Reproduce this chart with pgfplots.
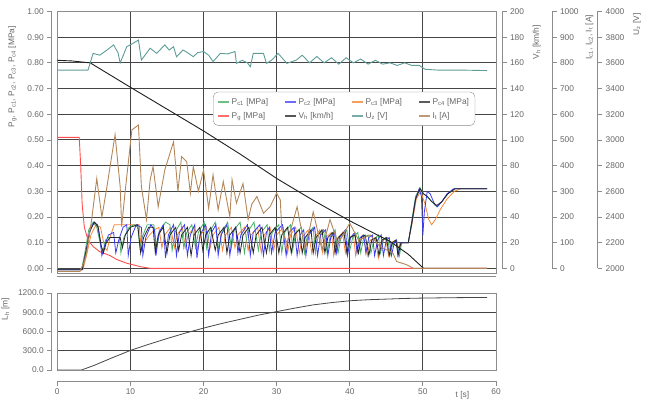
\documentclass[border=0pt]{standalone}
\usepackage{pgfplots}
\pgfplotsset{compat=1.18}
\usepackage{fontspec}
\setmainfont{Liberation Sans}
\definecolor{txt}{HTML}{666666}
\definecolor{axg}{HTML}{8C8C8C}
\definecolor{gridc}{HTML}{454545}
\definecolor{cg}{HTML}{49B06A}
\definecolor{cb}{HTML}{3B3BF5}
\definecolor{co}{HTML}{F5873A}
\definecolor{ck}{HTML}{262626}
\definecolor{cr}{HTML}{FF4D4D}
\definecolor{cv}{HTML}{1E1E1E}
\definecolor{cu}{HTML}{5E9C98}
\definecolor{ci}{HTML}{B3875A}
\newcommand\tk{\fontsize{8.4}{9.5}\selectfont}
\pgfplotsset{
  base/.style={scale only axis, anchor=south west,
    /pgf/number format/assume math mode=true,
    tick label style={font=\tk, text=txt},
    label style={font=\tk, text=txt},
    axis line style={axg, line width=0.8bp},
    tick style={axg, line width=0.8bp},
    major tick length=4.5bp},
  dat/.style={base, xmin=0, xmax=60, width=438.7bp, axis lines=none, clip=false},
  tax/.style={base, width=1bp, xmin=0, xmax=1, axis x line=none, tick align=outside},
}
\begin{document}
\begin{tikzpicture}
\path[use as bounding box] (0,0) rectangle (645bp,400bp);
% ===== top main axis (pressures) =====
\begin{axis}[base, at={(57.3bp,127bp)}, width=438.7bp, height=261.5bp,
  xmin=0, xmax=60, ymin=-0.018, ymax=1,
  xtick={0,10,20,30,40,50,60}, ytick={0,0.1,0.2,0.3,0.4,0.5,0.6,0.7,0.8,0.9,1},
  xticklabels={}, yticklabels={}, major tick length=0pt,
  grid=major, major grid style={gridc, line width=0.9bp}]
\addplot[cr, line width=0.9bp] coordinates {(0,0.51)(3.0,0.51)(3.2,0.40)(3.4,0.25)(3.7,0.16)(4.2,0.11)(4.9,0.085)(5.8,0.065)(7.2,0.05)(8.1,0.035)(9.5,0.02)(11.3,0.007)(12.7,0)(58.8,0)};
\addplot[co, line width=0.8bp] coordinates {(0,-0.005)(3.5,-0.005)(4.0,0.05)(4.6,0.13)(5.3,0.17)(5.9,0.16)(6.5,0.08)(6.8,0.07)(7.3,0.13)(7.8,0.17)(11.2,0.17)(11.5,0.07)(11.9,0.10)(12.6,0.13)(13.3,0.15)(13.9,0.16)(14.3,0.08)(14.7,0.13)(15.5,0.16)(16.0,0.08)(16.4,0.13)(17.1,0.16)(17.5,0.08)(17.9,0.13)(18.7,0.16)(19.2,0.07)(19.6,0.13)(20.4,0.16)(20.9,0.08)(21.3,0.13)(22.1,0.16)(22.6,0.07)(23.0,0.13)(23.8,0.16)(24.3,0.08)(24.7,0.13)(25.6,0.16)(26.1,0.07)(26.5,0.13)(27.4,0.16)(27.9,0.06)(28.3,0.13)(29.1,0.16)(29.6,0.07)(30.0,0.13)(30.9,0.16)(31.5,0.06)(31.9,0.13)(32.6,0.16)(33.1,0.06)(33.5,0.12)(34.3,0.15)(34.8,0.06)(35.2,0.12)(35.9,0.15)(36.3,0.06)(36.7,0.12)(37.5,0.14)(37.8,0.05)(38.2,0.11)(39.0,0.14)(39.4,0.06)(39.8,0.11)(40.5,0.13)(40.8,0.05)(41.2,0.11)(41.8,0.13)(42.4,0.05)(42.8,0.11)(43.5,0.12)(43.9,0.04)(44.3,0.10)(44.9,0.12)(45.3,0.05)(45.7,0.10)(46.3,0.11)(46.7,0.08)(47.2,0.10)(48.0,0.10)(48.5,0.17)(49.1,0.27)(49.7,0.30)(50.3,0.25)(50.8,0.19)(51.2,0.17)(51.7,0.19)(52.4,0.23)(53.3,0.27)(54.3,0.30)(55.2,0.31)(58.8,0.31)};
\addplot[cg, line width=0.8bp] coordinates {(0,-0.005)(3.3,-0.005)(3.7,0.05)(4.3,0.15)(4.9,0.18)(5.4,0.16)(6.0,0.08)(6.3,0.07)(6.6,0.11)(7.0,0.12)(8.5,0.12)(8.7,0.06)(9.1,0.12)(9.8,0.16)(10.5,0.17)(11.0,0.16)(11.3,0.08)(11.6,0.12)(12.3,0.17)(13.2,0.17)(13.6,0.08)(14.0,0.14)(14.8,0.18)(15.4,0.17)(15.7,0.07)(16.1,0.14)(16.9,0.18)(17.3,0.08)(17.7,0.14)(18.4,0.17)(18.9,0.08)(19.3,0.14)(20.1,0.18)(20.4,0.08)(20.8,0.14)(21.6,0.18)(22.1,0.07)(22.5,0.14)(23.3,0.18)(23.8,0.08)(24.2,0.15)(25.0,0.18)(25.6,0.06)(26.0,0.14)(26.9,0.18)(27.5,0.07)(27.9,0.14)(28.7,0.17)(29.0,0.07)(29.4,0.14)(30.3,0.17)(30.7,0.06)(31.1,0.14)(31.9,0.17)(32.2,0.07)(32.6,0.14)(33.4,0.16)(33.8,0.06)(34.2,0.13)(35.0,0.16)(35.3,0.06)(35.7,0.13)(36.4,0.15)(36.9,0.06)(37.3,0.12)(38.0,0.15)(38.4,0.06)(38.8,0.12)(39.6,0.15)(40.0,0.07)(40.4,0.12)(41.1,0.14)(41.5,0.06)(41.9,0.12)(42.5,0.13)(42.9,0.06)(43.3,0.11)(43.9,0.13)(44.2,0.06)(44.6,0.11)(45.2,0.12)(45.5,0.05)(45.9,0.10)(46.4,0.11)(46.8,0.05)(47.1,0.10)(48.0,0.10)(48.5,0.19)(49.0,0.28)(49.6,0.315)(50.1,0.29)(50.6,0.28)(51.2,0.26)(51.9,0.24)(52.6,0.26)(53.4,0.29)(54.4,0.31)(58.8,0.31)};
\addplot[cb, line width=0.8bp] coordinates {(0,-0.005)(3.4,-0.005)(3.8,0.05)(4.4,0.14)(5.0,0.18)(5.5,0.17)(5.9,0.10)(6.1,0.05)(6.5,0.09)(7.0,0.13)(7.7,0.14)(8.0,0.06)(8.4,0.11)(9.0,0.16)(9.5,0.17)(9.7,0.05)(10.1,0.12)(10.8,0.17)(11.5,0.16)(11.7,0.05)(12.1,0.12)(12.8,0.17)(13.3,0.15)(13.5,0.05)(13.9,0.14)(14.5,0.17)(14.8,0.04)(15.2,0.13)(15.9,0.17)(16.3,0.05)(16.7,0.14)(17.4,0.17)(17.8,0.05)(18.2,0.13)(18.8,0.17)(19.1,0.04)(19.5,0.13)(20.3,0.17)(20.7,0.05)(21.1,0.14)(21.7,0.17)(22.0,0.05)(22.4,0.13)(23.2,0.17)(23.6,0.05)(24.0,0.14)(24.4,0.16)(24.7,0.06)(25.1,0.13)(26.0,0.17)(26.4,0.05)(26.8,0.14)(27.7,0.17)(28.2,0.05)(28.6,0.14)(29.0,0.16)(29.3,0.06)(29.8,0.14)(30.8,0.17)(31.3,0.05)(31.7,0.14)(32.4,0.16)(32.8,0.05)(33.2,0.13)(33.7,0.15)(34.0,0.05)(34.4,0.13)(35.2,0.16)(35.6,0.05)(36.0,0.13)(36.7,0.15)(37.0,0.05)(37.4,0.12)(37.9,0.14)(38.2,0.06)(38.6,0.12)(39.4,0.15)(39.7,0.05)(40.1,0.12)(40.7,0.14)(41.0,0.06)(41.4,0.12)(41.9,0.13)(42.2,0.06)(42.6,0.12)(43.1,0.13)(43.4,0.05)(43.8,0.11)(44.3,0.13)(44.6,0.05)(45.0,0.11)(45.4,0.12)(45.7,0.05)(46.1,0.10)(46.4,0.11)(46.6,0.05)(46.9,0.10)(48.0,0.10)(48.5,0.18)(49.0,0.27)(49.5,0.31)(49.8,0.28)(50.0,0.13)(50.2,0.22)(50.6,0.30)(51.0,0.29)(51.6,0.25)(52.0,0.24)(52.6,0.26)(53.3,0.29)(54.2,0.31)(58.8,0.31)};
\addplot[ck, line width=0.8bp] coordinates {(0,-0.005)(3.4,-0.005)(3.9,0.06)(4.5,0.15)(5.1,0.18)(5.6,0.16)(6.0,0.09)(6.3,0.06)(6.7,0.10)(7.2,0.12)(8.6,0.12)(8.9,0.08)(9.3,0.13)(10.0,0.16)(11.0,0.17)(11.4,0.06)(11.8,0.12)(12.5,0.16)(13.1,0.16)(13.4,0.06)(13.8,0.13)(14.5,0.16)(15.0,0.06)(15.4,0.13)(16.2,0.16)(16.6,0.07)(17.0,0.13)(17.8,0.16)(18.3,0.05)(18.7,0.13)(19.5,0.16)(19.9,0.07)(20.3,0.13)(21.0,0.16)(21.6,0.07)(22.0,0.13)(22.8,0.16)(23.2,0.06)(23.6,0.13)(24.4,0.16)(25.0,0.06)(25.4,0.13)(26.2,0.16)(26.8,0.06)(27.2,0.13)(28.0,0.16)(28.6,0.06)(29.0,0.13)(29.8,0.16)(30.3,0.06)(30.7,0.13)(31.5,0.16)(32.0,0.06)(32.4,0.13)(33.1,0.15)(33.5,0.06)(33.9,0.12)(34.7,0.15)(35.0,0.06)(35.4,0.12)(36.2,0.15)(36.6,0.06)(37.0,0.12)(37.7,0.14)(38.0,0.06)(38.4,0.12)(39.2,0.14)(39.6,0.06)(40.0,0.12)(40.7,0.13)(41.2,0.06)(41.6,0.12)(42.1,0.13)(42.6,0.05)(43.0,0.11)(43.6,0.12)(44.0,0.05)(44.4,0.11)(45.0,0.12)(45.4,0.05)(45.8,0.10)(46.3,0.11)(46.6,0.05)(47.0,0.10)(48.0,0.10)(48.5,0.18)(49.0,0.27)(49.6,0.31)(50.1,0.29)(50.6,0.28)(51.2,0.26)(51.9,0.245)(52.6,0.26)(53.4,0.29)(54.4,0.31)(58.8,0.31)};
\end{axis}
% ===== V_h data =====
\begin{axis}[dat, at={(57.3bp,127bp)}, height=261.5bp, ymin=-3.6, ymax=200]
\addplot[cv, line width=0.9bp] coordinates {(0,162)(2,161.5)(4.5,160)(10,141)(15,124)(20,107)(25,89)(30,70)(35,53)(40,37)(45.5,21)(48,11)(50.1,0)(58.8,0)};
\end{axis}
% ===== U_z data =====
\begin{axis}[dat, at={(57.3bp,127bp)}, height=261.5bp, ymin=1964, ymax=4000]
\addplot[cu, line width=0.9bp] coordinates {(0,3544)(4.2,3544)(4.9,3674)(5.8,3660)(6.8,3700)(7.7,3740)(8.3,3680)(8.6,3600)(9.5,3726)(10.3,3750)(11.1,3778)(11.5,3622)(12.0,3660)(12.7,3714)(13.6,3674)(14.7,3740)(15.3,3700)(15.9,3726)(16.3,3648)(17.2,3700)(17.8,3680)(18.6,3648)(19.2,3680)(20.0,3688)(20.7,3660)(21.3,3610)(22.3,3674)(23.3,3670)(24.3,3688)(24.5,3596)(25.3,3620)(26.0,3600)(26.4,3570)(26.8,3674)(28.2,3674)(28.6,3596)(29.3,3620)(30.2,3674)(31.4,3596)(32.7,3622)(33.5,3660)(34.5,3600)(35.5,3650)(36.5,3600)(37.5,3640)(38.5,3590)(39.5,3640)(40.5,3600)(41.5,3630)(42.5,3590)(43.5,3620)(44.5,3590)(45.5,3600)(46.5,3580)(47.5,3600)(48.5,3580)(49.5,3580)(50.3,3550)(52,3544)(55,3544)(58.8,3540)};
\end{axis}
% ===== I_t data + legend =====
\begin{axis}[dat, at={(57.3bp,127bp)}, height=261.5bp, ymin=-18, ymax=1000,
  legend columns=4, legend cell align=left,
  legend style={at={(rel axis cs:0.355,0.693)}, anchor=north west, draw=axg, rounded corners=5bp, fill=white, font=\tk, text=txt, inner xsep=4bp, inner ysep=4bp, row sep=2.5bp,
    /tikz/every even column/.append style={column sep=14bp}},
  legend image code/.code={\draw[#1] (0bp,0bp) -- (11bp,0bp);}]
\addplot[ci, line width=0.9bp, forget plot] coordinates {(0,-12)(3.1,-12)(3.6,20)(4.0,60)(4.7,190)(5.4,350)(5.6,305)(6.1,200)(6.8,320)(7.9,520)(8.6,318)(8.8,163)(9.3,305)(10.2,539)(11.1,558)(11.5,318)(12.2,190)(12.7,345)(13.1,396)(13.8,240)(14.7,383)(15.9,493)(16.5,300)(17.0,435)(17.7,415)(18.2,293)(18.6,396)(19.3,300)(20.0,383)(20.7,234)(21.3,364)(22.0,228)(22.7,338)(23.6,200)(23.9,345)(24.5,254)(25.4,330)(26.1,190)(26.6,250)(27.3,280)(28.2,215)(29.1,240)(30.0,293)(30.5,266)(30.7,150)(31.4,98)(32.8,240)(33.9,72)(35.0,220)(36.2,72)(37.3,190)(38.4,98)(40.0,176)(41.2,110)(42.8,130)(44.1,85)(45.9,60)(46.4,27)(47.8,14)(48.7,0)(58.8,0)};
\addlegendimage{draw=cg!80, line width=1.5bp}\addlegendentry{P\textsubscript{c1} [MPa]}
\addlegendimage{draw=cb!75, line width=1.5bp}\addlegendentry{P\textsubscript{c2} [MPa]}
\addlegendimage{draw=co!80, line width=1.5bp}\addlegendentry{P\textsubscript{c3} [MPa]}
\addlegendimage{draw=ck!75, line width=1.5bp}\addlegendentry{P\textsubscript{c4} [MPa]}
\addlegendimage{draw=cr!80, line width=1.5bp}\addlegendentry{P\textsubscript{g} [MPa]}
\addlegendimage{draw=cv!75, line width=1.5bp}\addlegendentry{V\textsubscript{h} [km/h]}
\addlegendimage{draw=cu!85, line width=1.5bp}\addlegendentry{U\textsubscript{z} [V]}
\addlegendimage{draw=ci!85, line width=1.5bp}\addlegendentry{I\textsubscript{t} [A]}
\end{axis}
% ===== detached gray line under top panel =====
\begin{axis}[base, at={(57.3bp,123.5bp)}, width=438.7bp, height=1bp, xmin=0, xmax=60, ymin=0, ymax=1,
  axis x line*=bottom, axis y line=none, xtick=\empty]
\end{axis}
% ===== left tick axis P =====
\begin{axis}[tax, at={(51.7bp,127bp)}, height=261.5bp, ymin=-0.018, ymax=1,
  axis y line*=left, ytick={0,0.1,0.2,0.3,0.4,0.5,0.6,0.7,0.8,0.9,1},
  yticklabel style={/pgf/number format/.cd, fixed, fixed zerofill, precision=2},
  ylabel={P\textsubscript{g}, P\textsubscript{c1}, P\textsubscript{c2}, P\textsubscript{c3}, P\textsubscript{c4} [MPa]},
  ylabel style={at={(ticklabel cs:0.75,4bp)}}]
\end{axis}
% ===== right tick axes =====
\begin{axis}[tax, at={(501bp,131.5bp)}, height=257bp, ymin=0, ymax=200,
  axis y line*=right, ytick={0,20,40,60,80,100,120,140,160,180,200},
  ylabel={V\textsubscript{h} [km/h]}, ylabel style={at={(ticklabel cs:0.88,2bp)}}]
\end{axis}
\begin{axis}[tax, at={(551bp,131.5bp)}, height=257bp, ymin=0, ymax=1000,
  axis y line*=right, ytick={0,100,200,300,400,500,600,700,800,900,1000},
  yticklabel style={/pgf/number format/1000 sep={}},
  ylabel={I\textsubscript{c1}, I\textsubscript{c2}, I\textsubscript{t} [A]}, ylabel style={at={(ticklabel cs:0.9)}}]
\end{axis}
\begin{axis}[tax, at={(596.7bp,131.5bp)}, height=257bp, ymin=2000, ymax=4000,
  axis y line*=right, ytick={2000,2200,2400,2600,2800,3000,3200,3400,3600,3800,4000},
  yticklabel style={/pgf/number format/1000 sep={}},
  ylabel={U\textsubscript{z} [V]}, ylabel style={at={(ticklabel cs:0.95,2bp)}}]
\end{axis}
% ===== bottom panel =====
\begin{axis}[base, at={(57.3bp,30bp)}, width=438.7bp, height=77bp,
  xmin=0, xmax=60, ymin=0, ymax=1200,
  xtick={0,10,20,30,40,50,60}, ytick={0,300,600,900,1200},
  xticklabels={}, yticklabels={}, major tick length=0pt,
  grid=major, major grid style={gridc, line width=0.9bp}]
\addplot[ck!85, line width=0.8bp] coordinates {(0,0)(3.3,0)(5,70)(7.5,190)(10,305)(12.5,400)(15,490)(17.5,575)(20,653)(22.5,725)(25,790)(27.5,855)(30,910)(32.5,965)(35,1015)(37.5,1050)(40,1079)(42.5,1095)(45,1105)(47.5,1115)(50,1121)(55,1128)(58.8,1130)};
\end{axis}
\begin{axis}[tax, at={(51.7bp,30bp)}, height=77bp, ymin=0, ymax=1200,
  axis y line*=left, ytick={0,300,600,900,1200},
  yticklabel style={/pgf/number format/.cd, fixed, fixed zerofill, precision=1, 1000 sep={}},
  ylabel={L\textsubscript{h} [m]}, ylabel style={at={(ticklabel cs:0.79,2bp)}}]
\end{axis}
\begin{axis}[base, at={(57.3bp,19bp)}, width=438.7bp, height=1bp, xmin=0, xmax=60, ymin=0, ymax=1,
  axis x line*=bottom, axis y line=none, tick align=outside,
  xtick={0,10,20,30,40,50,60},
  xlabel={t [s]}, xlabel style={at={(axis cs:55.4,0)}, anchor=north, yshift=-7bp}]
\end{axis}
\end{tikzpicture}
\end{document}
